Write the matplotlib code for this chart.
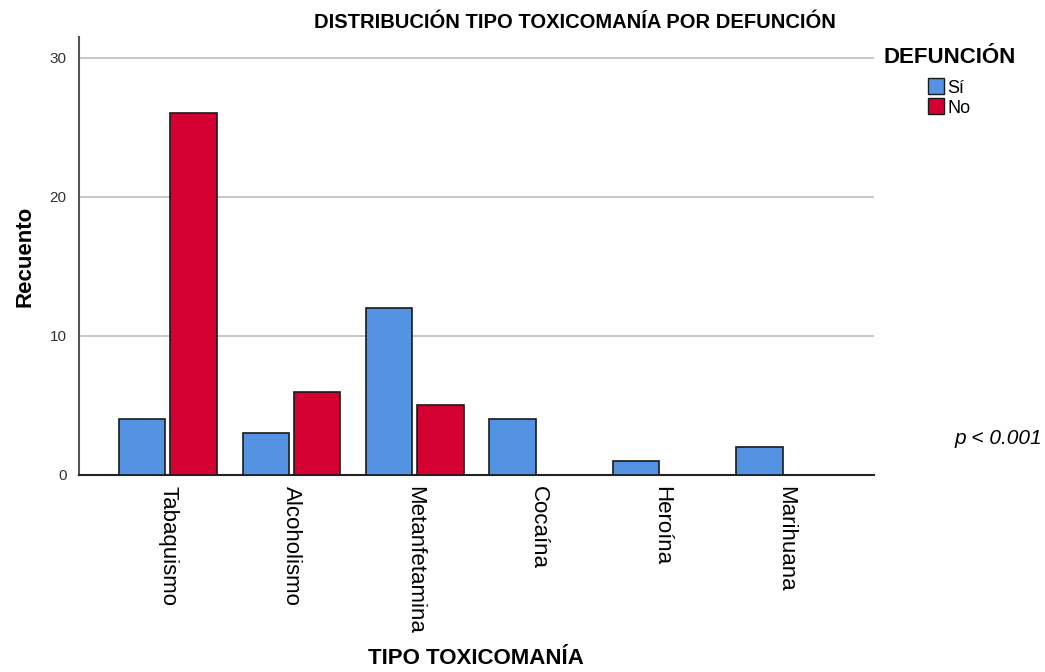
import numpy as np
import matplotlib.pyplot as plt
from matplotlib.patches import Patch

plt.rcParams['font.family'] = ['Liberation Sans', 'DejaVu Sans']

# data
categorias = ['Tabaquismo', 'Alcoholismo', 'Metanfetamina', 'Cocaína', 'Heroína', 'Marihuana']
si = [4, 3, 12, 4, 1, 2]
no = [26, 6, 5, 0, 0, 0]

color_si = '#5393E1'
color_no = '#D50032'

fig = plt.figure(figsize=(10.45, 6.72), dpi=100)
ax = fig.add_axes([0.0756, 0.2932, 0.7608, 0.6518])

x = np.arange(len(categorias))
ancho = 0.375
sep = 0.02

#only draw bars with a count, the red slot stays empty
for i in range(len(categorias)):
    if si[i] > 0:
        ax.bar(x[i] - ancho/2 - sep, si[i], ancho, color=color_si,
               edgecolor='#1a1a1a', linewidth=1.2, zorder=3)
    if no[i] > 0:
        ax.bar(x[i] + ancho/2 + sep, no[i], ancho, color=color_no,
               edgecolor='#1a1a1a', linewidth=1.2, zorder=3)

ax.set_xlim(-0.72, len(categorias) - 1 + 0.72)
ax.set_ylim(0, 31.5)
ax.set_yticks([0, 10, 20, 30])
ax.yaxis.grid(True, color='#bdbdbd', linewidth=1.2, zorder=0)
ax.tick_params(axis='y', length=0, labelsize=11, labelcolor='#333333', pad=9)
ax.tick_params(axis='x', length=0, pad=8)
ax.set_xticks(x)
ax.set_xticklabels(categorias, rotation=-90, fontsize=16, va='top', ha='center')

for s in ['top', 'right']:
    ax.spines[s].set_visible(False)
ax.spines['left'].set_color('#555555')
ax.spines['left'].set_linewidth(1.5)
ax.spines['bottom'].set_color('#222222')
ax.spines['bottom'].set_linewidth(1.5)

ax.set_ylabel('Recuento', fontsize=16, fontweight='bold', labelpad=10)
fig.text(0.455, 0.012, 'TIPO TOXICOMANÍA', fontsize=16, fontweight='bold', ha='center')
fig.text(0.55, 0.958, 'DISTRIBUCIÓN TIPO TOXICOMANÍA POR DEFUNCIÓN', fontsize=14.5,
         fontweight='bold', ha='center')

fig.text(0.845, 0.914, 'DEFUNCIÓN', fontsize=16, fontweight='bold', va='center')
handles = [Patch(facecolor=color_si, edgecolor='#1a1a1a', label='Sí'),
           Patch(facecolor=color_no, edgecolor='#1a1a1a', label='No')]
fig.legend(handles=handles, loc='upper left', bbox_to_anchor=(0.8795, 0.897),
           frameon=False, fontsize=13, handlelength=0.9, handleheight=1.0,
           handletextpad=0.15, labelspacing=0.1, borderpad=0)

fig.text(0.913, 0.347, 'p < 0.001', fontsize=15, style='italic', va='center')

fig.savefig('out.png', dpi=100)
